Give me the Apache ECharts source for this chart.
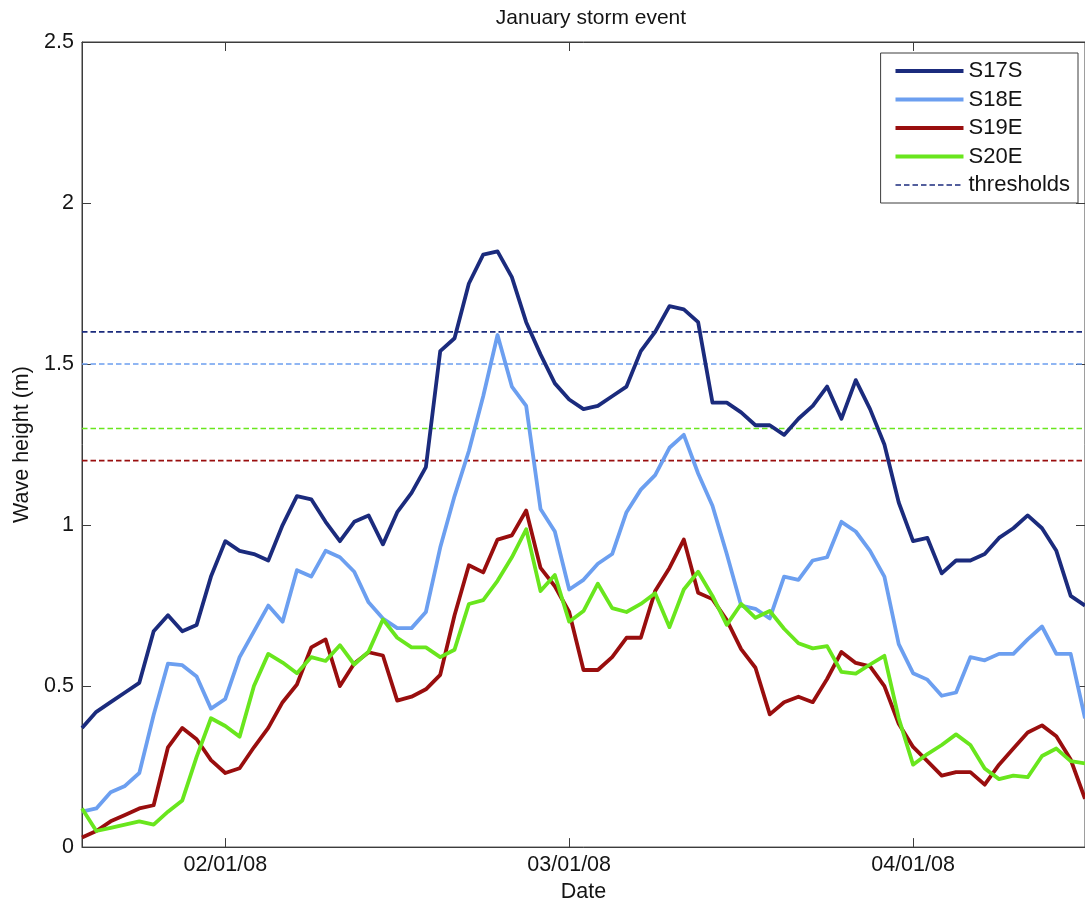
<!DOCTYPE html>
<html>
<head>
<meta charset="utf-8">
<title>January storm event</title>
<script src="https://cdn.jsdelivr.net/npm/echarts@6/dist/echarts.min.js"></script>
<style>
  html, body { margin: 0; padding: 0; background: #ffffff; }
  #chart { width: 1085px; height: 908px; }
</style>
</head>
<body>
<div id="chart"></div>
<script>
// Hourly significant wave height (m) at four stations, starting 01/01/08 14:00.
// x is measured in hours from 02/01/08 00:00.
const startHour = -10;
const endHour = 60;

const s17s = [0.37, 0.42, 0.45, 0.48, 0.51, 0.67, 0.72, 0.67, 0.69, 0.84,
  0.95, 0.92, 0.91, 0.89, 1.00, 1.09, 1.08, 1.01, 0.95, 1.01,
  1.03, 0.94, 1.04, 1.10, 1.18, 1.54, 1.58, 1.75, 1.84, 1.85,
  1.77, 1.63, 1.53, 1.44, 1.39, 1.36, 1.37, 1.40, 1.43, 1.54,
  1.60, 1.68, 1.67, 1.63, 1.38, 1.38, 1.35, 1.31, 1.31, 1.28,
  1.33, 1.37, 1.43, 1.33, 1.45, 1.36, 1.25, 1.07, 0.95, 0.96,
  0.85, 0.89, 0.89, 0.91, 0.96, 0.99, 1.03, 0.99, 0.92, 0.78,
  0.75];

const s18e = [0.11, 0.12, 0.17, 0.19, 0.23, 0.41, 0.57, 0.565, 0.53, 0.43,
  0.46, 0.59, 0.67, 0.75, 0.70, 0.86, 0.84, 0.92, 0.90, 0.855,
  0.76, 0.71, 0.68, 0.68, 0.73, 0.93, 1.09, 1.23, 1.40, 1.59,
  1.43, 1.37, 1.05, 0.98, 0.80, 0.83, 0.88, 0.91, 1.04, 1.11,
  1.155, 1.24, 1.28, 1.16, 1.06, 0.91, 0.75, 0.74, 0.71, 0.84,
  0.83, 0.89, 0.90, 1.01, 0.98, 0.92, 0.84, 0.63, 0.54, 0.52,
  0.47, 0.48, 0.59, 0.58, 0.60, 0.60, 0.645, 0.685, 0.60, 0.60,
  0.40];

const s19e = [0.03, 0.05, 0.08, 0.10, 0.12, 0.13, 0.31, 0.37, 0.335, 0.27,
  0.23, 0.245, 0.31, 0.37, 0.45, 0.505, 0.62, 0.645, 0.50, 0.57,
  0.605, 0.595, 0.455, 0.467, 0.49, 0.535, 0.72, 0.875, 0.853, 0.955,
  0.968, 1.045, 0.867, 0.81, 0.73, 0.55, 0.55, 0.59, 0.65, 0.65,
  0.795, 0.867, 0.955, 0.79, 0.77, 0.705, 0.615, 0.557, 0.412, 0.45,
  0.467, 0.45, 0.522, 0.606, 0.572, 0.561, 0.50, 0.383, 0.311, 0.267,
  0.222, 0.233, 0.233, 0.194, 0.256, 0.306, 0.356, 0.378, 0.344, 0.272,
  0.15];

const s20e = [0.12, 0.05, 0.06, 0.07, 0.08, 0.07, 0.11, 0.145, 0.28, 0.40,
  0.376, 0.343, 0.50, 0.60, 0.573, 0.54, 0.59, 0.578, 0.627, 0.567,
  0.607, 0.707, 0.65, 0.62, 0.62, 0.59, 0.613, 0.755, 0.767, 0.827,
  0.90, 0.987, 0.795, 0.845, 0.70, 0.733, 0.818, 0.742, 0.73, 0.755,
  0.788, 0.683, 0.80, 0.855, 0.78, 0.69, 0.755, 0.712, 0.733, 0.678,
  0.633, 0.617, 0.624, 0.544, 0.539, 0.567, 0.594, 0.40, 0.256, 0.289,
  0.317, 0.35, 0.317, 0.244, 0.211, 0.222, 0.217, 0.283, 0.306, 0.267,
  0.26];

const seriesNames = ['S17S', 'S18E', 'S19E', 'S20E'];
const seriesColors = ['#1b2b7d', '#6c9ff0', '#990e0e', '#69e61d'];
// Exceedance threshold per station, in the same order as the stations.
const thresholds = [1.6, 1.5, 1.2, 1.3];

const dateTickHours = [0, 24, 48];
const dateTickLabels = ['02/01/08', '03/01/08', '04/01/08'];

const FONT = '"Liberation Sans", Arial, Helvetica, sans-serif';
const FONT_SIZE = 21.5;
const AXIS_COLOR = '#3c3c3c';
const TEXT_COLOR = '#141414';
const DATA_WIDTH = 3.8;
const THRESHOLD_WIDTH = 1.6;
const THRESHOLD_DASH = [5.5, 3];

const toPoints = vals => vals.map((v, i) => [startHour + i, v]);

const stationSeries = [s17s, s18e, s19e, s20e].map((vals, k) => ({
  name: seriesNames[k],
  type: 'line',
  data: toPoints(vals),
  symbol: 'none',
  z: 3,
  lineStyle: { color: seriesColors[k], width: DATA_WIDTH, join: 'round' },
  itemStyle: { color: seriesColors[k] },
  emphasis: { disabled: true }
}));

// One dashed horizontal line per station threshold; they share a single legend entry.
const thresholdSeries = thresholds.map((t, k) => ({
  name: 'thresholds',
  type: 'line',
  data: [[startHour, t], [endHour, t]],
  symbol: 'none',
  z: 2,
  lineStyle: { color: seriesColors[k], width: THRESHOLD_WIDTH, type: THRESHOLD_DASH },
  itemStyle: { color: seriesColors[k] },
  emphasis: { disabled: true }
}));

// Legend entries: plain line samples, no marker.
const hiddenMarker = { opacity: 0, color: 'rgba(0,0,0,0)', borderWidth: 0 };
const legendData = seriesNames.map((name, k) => ({
  name,
  itemStyle: hiddenMarker,
  lineStyle: { color: seriesColors[k], width: DATA_WIDTH, type: 'solid' }
})).concat([{
  name: 'thresholds',
  itemStyle: hiddenMarker,
  lineStyle: { color: seriesColors[0], width: THRESHOLD_WIDTH, type: THRESHOLD_DASH }
}]);

const tickStyle = { show: true, inside: true, length: 9, lineStyle: { color: AXIS_COLOR, width: 1 } };

const chart = echarts.init(document.getElementById('chart'), null, { renderer: 'canvas' });
chart.setOption({
  animation: false,
  backgroundColor: '#ffffff',
  title: {
    text: 'January storm event',
    left: 586,
    top: 3,
    textAlign: 'center',
    textStyle: { fontFamily: FONT, fontSize: 21, fontWeight: 'normal', color: TEXT_COLOR }
  },
  grid: {
    left: 82, top: 42, right: -5, bottom: 60,
    show: true, borderColor: AXIS_COLOR, borderWidth: 1, backgroundColor: 'transparent'
  },
  legend: {
    data: legendData,
    orient: 'vertical',
    right: 7,
    top: 53,
    itemWidth: 68,
    itemHeight: 14,
    itemGap: 6.5,
    padding: [7, 8, 7, 13],
    backgroundColor: '#ffffff',
    borderColor: AXIS_COLOR,
    borderWidth: 1,
    selectedMode: false,
    textStyle: { fontFamily: FONT, fontSize: 22, color: TEXT_COLOR }
  },
  xAxis: [
    {
      type: 'value',
      position: 'bottom',
      min: startHour,
      max: endHour,
      name: 'Date',
      nameLocation: 'middle',
      nameGap: 33,
      nameTextStyle: { fontFamily: FONT, fontSize: FONT_SIZE, color: TEXT_COLOR },
      axisLine: { show: true, onZero: false, lineStyle: { color: AXIS_COLOR, width: 1 } },
      axisTick: Object.assign({ customValues: dateTickHours }, tickStyle),
      axisLabel: {
        customValues: dateTickHours,
        formatter: v => dateTickLabels[dateTickHours.indexOf(v)] || '',
        fontFamily: FONT, fontSize: FONT_SIZE, color: TEXT_COLOR, margin: 7
      },
      splitLine: { show: false }
    },
    {
      type: 'value',
      position: 'top',
      min: startHour,
      max: endHour,
      axisLine: { show: true, onZero: false, lineStyle: { color: AXIS_COLOR, width: 1 } },
      axisTick: Object.assign({ customValues: dateTickHours }, tickStyle),
      axisLabel: { show: false, customValues: dateTickHours },
      splitLine: { show: false }
    }
  ],
  yAxis: [
    {
      type: 'value',
      position: 'left',
      min: 0,
      max: 2.5,
      interval: 0.5,
      name: 'Wave height (m)',
      nameLocation: 'middle',
      nameGap: 48,
      nameTextStyle: { fontFamily: FONT, fontSize: FONT_SIZE, color: TEXT_COLOR },
      axisLine: { show: true, onZero: false, lineStyle: { color: AXIS_COLOR, width: 1 } },
      axisTick: tickStyle,
      axisLabel: { fontFamily: FONT, fontSize: FONT_SIZE, color: TEXT_COLOR, margin: 8 },
      splitLine: { show: false }
    },
    {
      type: 'value',
      position: 'right',
      min: 0,
      max: 2.5,
      interval: 0.5,
      axisLine: { show: true, onZero: false, lineStyle: { color: AXIS_COLOR, width: 1 } },
      axisTick: tickStyle,
      axisLabel: { show: false },
      splitLine: { show: false }
    }
  ],
  series: thresholdSeries.concat(stationSeries)
});
</script>
</body>
</html>
